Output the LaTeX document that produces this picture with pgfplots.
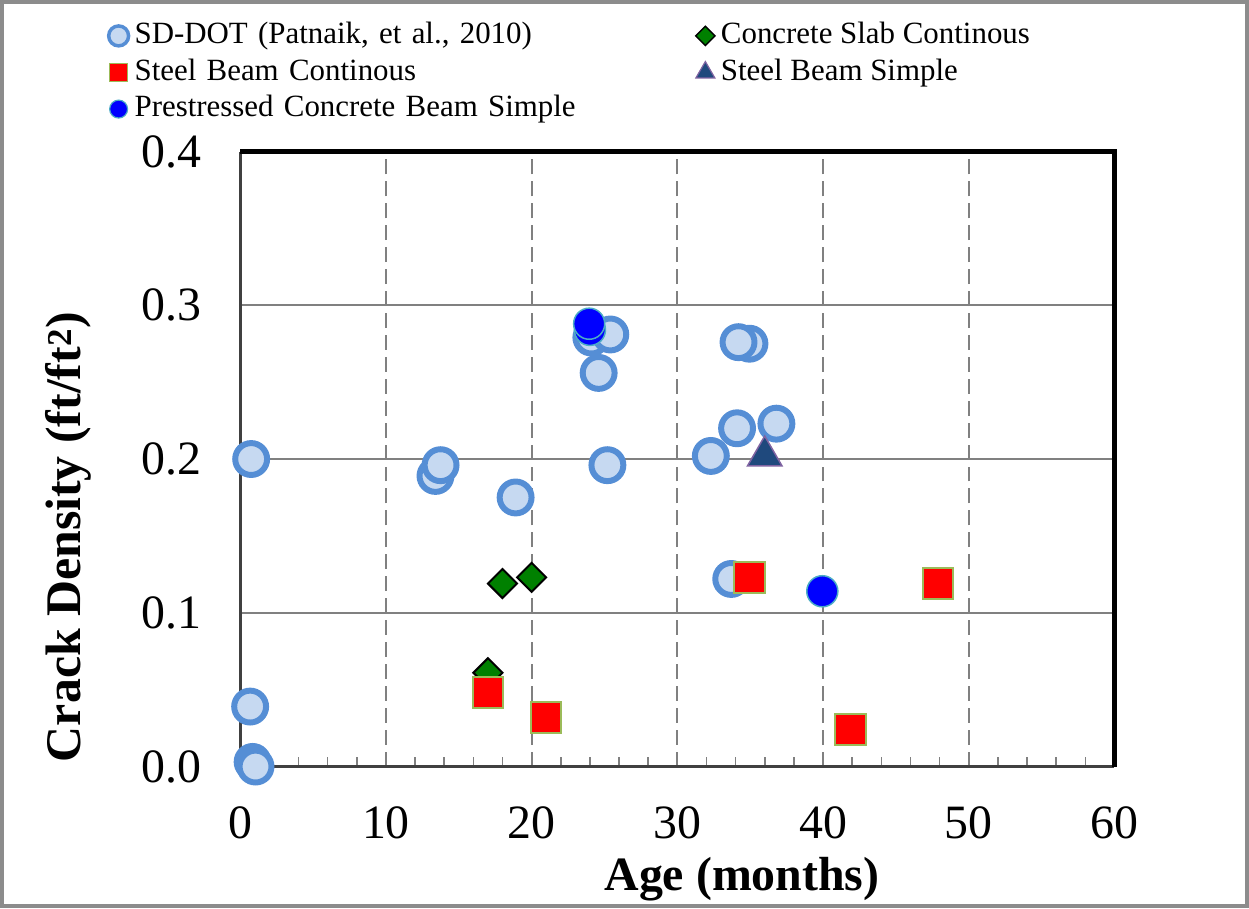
\documentclass[border=0pt]{standalone}
\usepackage{fontspec}
\setmainfont{Liberation Serif}
\usepackage{pgfplots}
\pgfplotsset{compat=1.18}
\definecolor{sdfill}{RGB}{198,217,241}
\definecolor{sddraw}{RGB}{85,142,213}
\definecolor{psdraw}{RGB}{75,172,198}
\definecolor{sqdraw}{RGB}{155,187,89}
\definecolor{slabfill}{RGB}{0,128,0}
\definecolor{trifill}{RGB}{31,73,125}
\definecolor{tridraw}{RGB}{128,100,162}
\definecolor{gridgray}{RGB}{128,128,128}
\definecolor{framegray}{RGB}{140,140,140}
\begin{document}
\begin{tikzpicture}
\draw[framegray, line width=4pt] (0pt,0pt) rectangle (1249pt,907pt);
\begin{axis}[
  at={(239pt,140pt)}, anchor=south west,
  scale only axis, width=877pt, height=617pt,
  xmin=0, xmax=60, ymin=0, ymax=0.4,
  xtick={0,10,20,30,40,50,60},
  ytick={0,0.1,0.2,0.3,0.4},
  minor x tick num=4,
  xtick pos=left,
  tick align=inside,
  major tick length=10pt, minor tick length=10pt,
  xtick style={color=gridgray, line width=1.5pt},
  ytick style={draw=none},
  xmajorgrids, ymajorgrids,
  major x grid style={color=gridgray, line width=2pt, dash pattern=on 15pt off 7pt},
  major y grid style={color=gridgray, line width=2pt},
  axis line style={draw=none},
  clip=false,
  set layers,
  /pgf/number format/assume math mode=true,
  tick label style={font=\fontsize{48}{52}\selectfont},
  xticklabel style={anchor=north, inner sep=0pt, yshift=-40pt},
  yticklabel style={anchor=east, inner sep=0pt, xshift=-39pt,
    /pgf/number format/fixed, /pgf/number format/fixed zerofill,
    /pgf/number format/precision=1},
  xlabel={Age (months)},
  xlabel style={at={(axis description cs:0.574,-0.183)}, anchor=center,
    font=\fontsize{48}{52}\selectfont\bfseries},
  ylabel={Crack Density (ft/ft\textsuperscript{2})},
  ylabel style={at={(axis description cs:-0.197,0.373)}, anchor=center,
    font=\fontsize{50}{55}\selectfont\bfseries},
  legend columns=2,
  legend cell align=left,
  legend image code/.code={\draw[#1] plot coordinates {(0pt,0pt)};},
  legend style={at={(axis description cs:-0.1505,1.2135)}, anchor=north west,
    draw=none, fill=none, inner sep=0pt, outer sep=0pt,
    column sep=6pt, row sep=5.2pt,
    font=\fontsize{31}{35}\selectfont,
    nodes={inner sep=0pt, text height=23.5pt, text depth=8pt},
    /tikz/column 2/.style={nodes={text width=557pt, align=left}}},
]
\addlegendimage{only marks, mark=*, mark size=10pt, line width=3.5pt, draw=sddraw, fill=sdfill}
\addlegendentry{SD-DOT (Patnaik, et al., 2010)}
\addlegendimage{only marks, mark=square*, mark size=6.8pt, line width=1.5pt, draw=black, fill=slabfill, mark options={rotate=45}}
\addlegendentry{Concrete Slab Continous}
\addlegendimage{only marks, mark=square*, mark size=9pt, line width=1.5pt, draw=sqdraw, fill=red}
\addlegendentry{Steel Beam Continous}
\addlegendimage{only marks, mark=triangle*, mark size=11pt, line width=1.2pt, draw=tridraw, fill=trifill}
\addlegendentry{Steel Beam Simple}
\addlegendimage{only marks, mark=*, mark size=9pt, line width=1.2pt, draw=psdraw, fill=blue}
\addlegendentry{Prestressed Concrete Beam Simple}

\draw[black!75, line width=3pt, line join=miter] (rel axis cs:0,1) -- (rel axis cs:0,0) -- (rel axis cs:1,0);
\draw[black, line width=4.5pt, line join=miter] (rel axis cs:0,1) -- (rel axis cs:1,1) -- (rel axis cs:1,0);

% SD-DOT (Patnaik, et al., 2010)
\addplot[forget plot, only marks, mark=*, mark size=16pt, line width=6pt, draw=sddraw, fill=sdfill] coordinates {
(0.75,0.200) (0.68,0.039) (0.85,0.003) (1.05,0.000)
(13.4,0.189) (13.75,0.196) (18.9,0.175)
(24.1,0.279) (25.4,0.281) (24.6,0.256) (25.2,0.196)
(34.95,0.275) (34.2,0.276) (34.1,0.220) (36.8,0.223) (32.3,0.202)
(33.7,0.122)
};
% Concrete Slab Continous
\addplot[forget plot, only marks, mark=square*, mark size=10.3pt, line width=2pt, draw=black, fill=slabfill, mark options={rotate=45}] coordinates {
(17.0,0.061) (18.0,0.119) (20.0,0.123)
};
% Steel Beam Continous
\addplot[forget plot, only marks, mark=square*, mark size=15.3pt, line width=2pt, draw=sqdraw, fill=red] coordinates {
(17.0,0.048) (21.0,0.032) (34.95,0.123) (41.9,0.024) (47.9,0.119)
};
% Steel Beam Simple
\addplot[forget plot, only marks, mark=triangle*, mark size=20pt, line width=1.5pt, draw=tridraw, fill=trifill] coordinates {
(36.0,0.202)
};
% Prestressed Concrete Beam Simple
\addplot[forget plot, only marks, mark=*, mark size=15.6pt, line width=1.5pt, draw=psdraw, fill=blue] coordinates {
(24.0,0.284) (23.95,0.288) (39.95,0.114)
};
\end{axis}
\end{tikzpicture}
\end{document}
